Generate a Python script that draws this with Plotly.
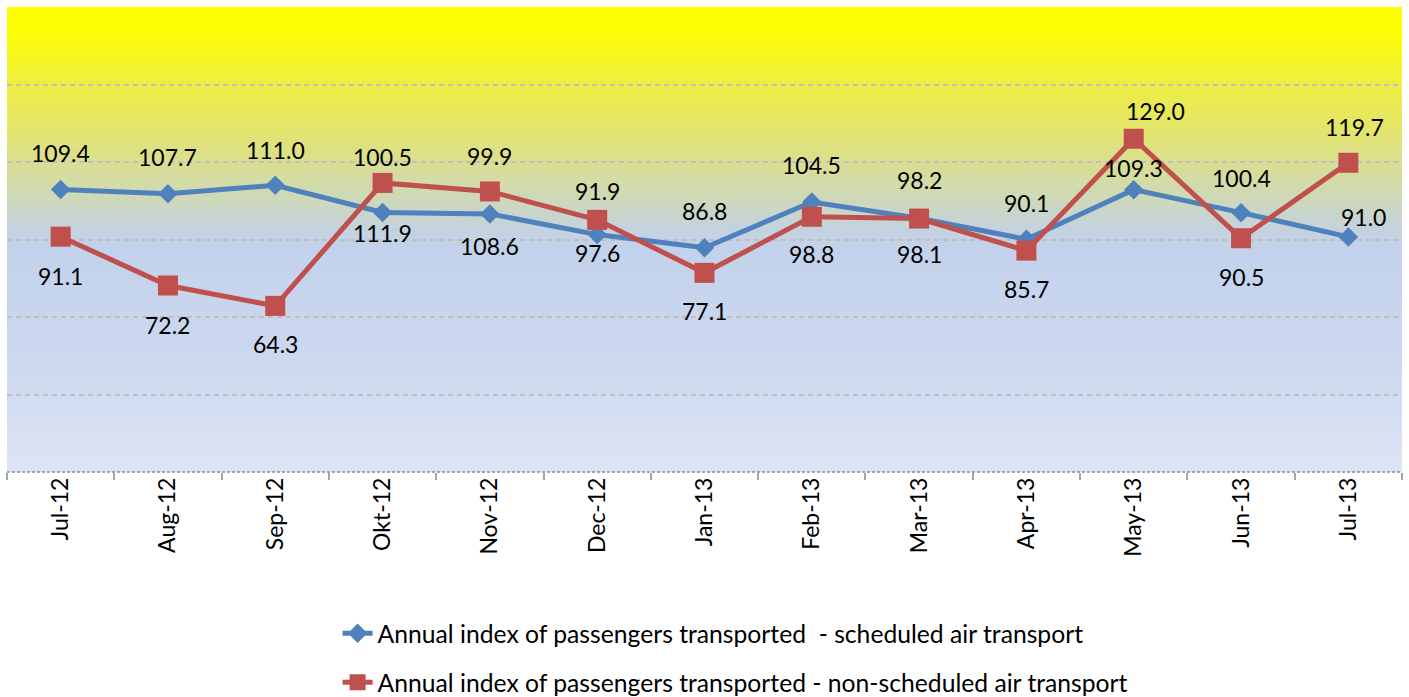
import plotly.graph_objects as go

months = ["Jul-12", "Aug-12", "Sep-12", "Okt-12", "Nov-12", "Dec-12", "Jan-13",
          "Feb-13", "Mar-13", "Apr-13", "May-13", "Jun-13", "Jul-13"]
scheduled = [109.4, 107.7, 111.0, 100.5, 99.9, 91.9, 86.8, 104.5, 98.2, 90.1, 109.3, 100.4, 91.0]
non_scheduled = [91.1, 72.2, 64.3, 111.9, 108.6, 97.6, 77.1, 98.8, 98.1, 85.7, 129.0, 90.5, 119.7]

name_sched = "Annual index of passengers transported  - scheduled air transport"
name_nonsched = "Annual index of passengers transported - non-scheduled air transport"

# label placement (pixels): positive = above the point
sched_yshift = [36, 37, 35, 55, 58, 44, 37, 37, 38, 36, 22, 35, 20]
sched_xshift = [0, 0, 0, 0, 0, 0, 0, 0, 0, 0, 0, 0, 15]
nons_yshift = [-39, -40, -38, -50, -55, -33, -38, -37, -35, -38, 28, -39, 36]
nons_xshift = [0, 0, 0, 0, 0, 0, 0, 0, 0, 0, 22, 0, 6]

BLUE = "#4F81BD"
RED = "#C0504D"
FONT = "Lato"
FS = 23

fig = go.Figure()
fig.add_trace(go.Scatter(
    x=months, y=scheduled, name=name_sched, mode="lines+markers",
    line=dict(color=BLUE, width=5), legendgroup="a",
    marker=dict(symbol="diamond", size=15, color=BLUE),
))
fig.add_trace(go.Scatter(
    x=months, y=non_scheduled, name=name_nonsched, mode="lines+markers",
    line=dict(color=RED, width=5), legendgroup="b",
    marker=dict(symbol="square", size=20, color=RED),
))

annotations = []
for i, m in enumerate(months):
    annotations.append(dict(x=m, y=scheduled[i], xref="x", yref="y", text=f"{scheduled[i]:.1f}",
                            showarrow=False, yshift=sched_yshift[i], xshift=sched_xshift[i],
                            font=dict(family=FONT, size=FS, color="black")))
    annotations.append(dict(x=m, y=non_scheduled[i], xref="x", yref="y", text=f"{non_scheduled[i]:.1f}",
                            showarrow=False, yshift=nons_yshift[i], xshift=nons_xshift[i],
                            font=dict(family=FONT, size=FS, color="black")))

# gradient background
stops = [(0.0, (255, 255, 0)), (0.06, (252, 252, 8)), (0.165, (238, 238, 66)),
         (0.25, (229, 230, 101)), (0.33, (218, 223, 143)), (0.42, (204, 216, 189)),
         (0.48, (196, 210, 224)), (0.52, (195, 210, 236)), (0.75, (204, 216, 239)),
         (1.0, (221, 229, 244))]


def col(t):
    for (t0, c0), (t1, c1) in zip(stops[:-1], stops[1:]):
        if t0 <= t <= t1:
            f = (t - t0) / (t1 - t0) if t1 > t0 else 0
            return "rgb(%d,%d,%d)" % tuple(round(a + (b - a) * f) for a, b in zip(c0, c1))
    return "rgb(%d,%d,%d)" % stops[-1][1]


shapes = []
N = 150
for k in range(N):
    t = (k + 0.5) / N  # from top
    y1 = 1 - k / N
    y0 = 1 - (k + 1) / N - 0.002
    shapes.append(dict(type="rect", xref="x domain", yref="y domain", x0=0, x1=1,
                       y0=max(y0, 0), y1=y1, fillcolor=col(t), line=dict(width=0), layer="below"))
shapes.append(dict(type="line", xref="x domain", yref="y domain", x0=0, x1=1, y0=0, y1=0,
                   line=dict(color="#8C8C8C", width=1.5, dash="3px,2px"), layer="above"))

fig.update_layout(
    width=1409, height=697,
    margin=dict(l=7, r=7, t=7, b=225, autoexpand=False),
    paper_bgcolor="white", plot_bgcolor="rgba(0,0,0,0)",
    font=dict(family=FONT, size=FS, color="black"),
    shapes=shapes, annotations=annotations,
    showlegend=True,
    legend=dict(orientation="v", x=0.237, xanchor="left", y=-0.298, yanchor="top",
                font=dict(family=FONT, size=24.7, color="black"), tracegroupgap=14,
                traceorder="grouped", bgcolor="rgba(0,0,0,0)"),
)
fig.update_xaxes(type="category", range=[-0.5, 12.5], tickangle=-90, ticks="outside",
                 tickson="boundaries", ticklen=7, tickcolor="#A6A6A6", tickwidth=1.5,
                 showgrid=False, showline=False, zeroline=False, automargin=False,
                 tickfont=dict(family=FONT, size=23, color="black"))
fig.update_yaxes(range=[0, 180], dtick=30, showticklabels=False, showgrid=True,
                 gridcolor="#BFBFBF", gridwidth=1.5, griddash="5px,4px", zeroline=False,
                 showline=False, ticks="", automargin=False)

fig.write_html("out.html", config={"displayModeBar": False},
               post_script="document.body.style.margin='0px';")
